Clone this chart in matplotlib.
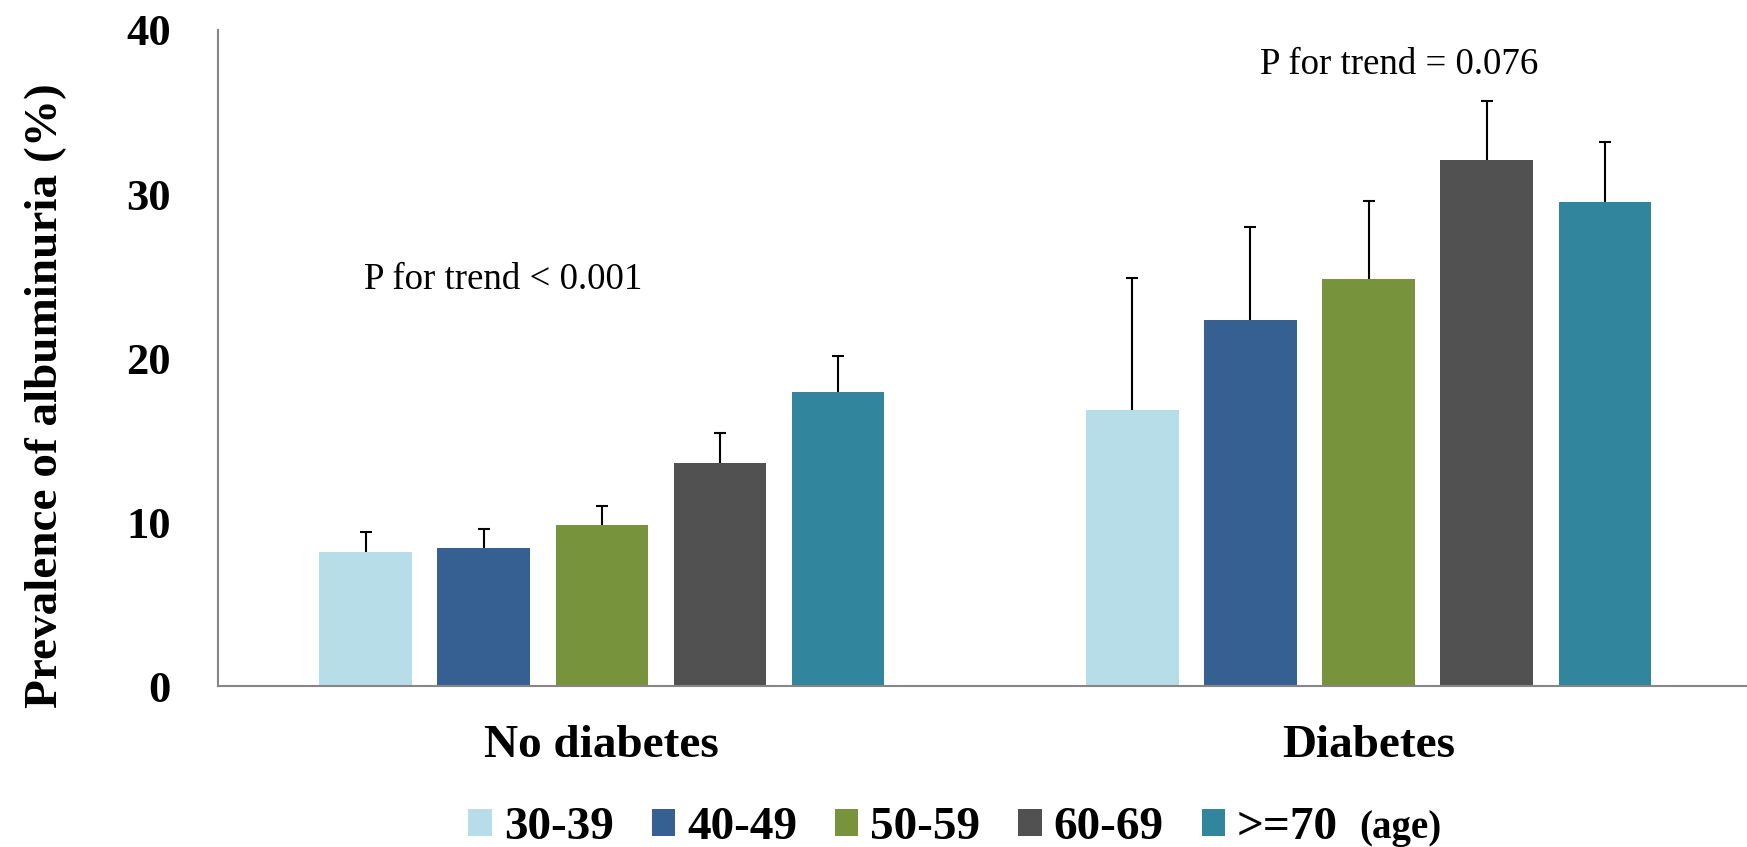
import numpy as np
import matplotlib
matplotlib.use("Agg")
from matplotlib import pyplot as plt

# prevalence of albuminuria by age band, with upper error bars
groups = ["No diabetes", "Diabetes"]
ages = ["30-39", "40-49", "50-59", "60-69", ">=70"]
colors = ["#B7DDE8", "#376092", "#77933C", "#515151", "#31859C"]

no_diab = [8.2, 8.4, 9.8, 13.6, 17.9]
no_diab_upper = [9.4, 9.6, 11.0, 15.4, 20.1]
diab = [16.8, 22.3, 24.8, 32.1, 29.5]
diab_upper = [24.9, 28.0, 29.6, 35.7, 33.2]

plt.rcParams['font.family'] = ['Liberation Serif', 'DejaVu Serif']

W, H = 1747, 847
fig = plt.figure(figsize=(W / 100, H / 100), dpi=100)
ax = fig.add_axes([218 / W, 1 - 686 / H, 1 - 218 / W, (686 - 30) / H])

step = 0.1545
width = 0.121
centers = np.array([0.502, 1.505])
for i, age in enumerate(ages):
    vals = np.array([no_diab[i], diab[i]])
    upper = np.array([no_diab_upper[i], diab_upper[i]])
    xpos = centers + (i - 2) * step
    ax.bar(xpos, vals, width=width, color=colors[i], label=age, zorder=2)
    # upper whisker only, capped at the top
    ax.vlines(xpos, vals, upper, colors='black', linewidth=1.5, zorder=3)
    ax.plot(xpos, upper, linestyle='none', marker='_', markersize=8,
            markeredgewidth=1.5, color='black', zorder=3)

ax.set_xlim(0, 2)
ax.set_ylim(0, 40)
ax.set_yticks([0, 10, 20, 30, 40])
ax.set_yticklabels(["0", "10", "20", "30", "40"], fontsize=32, fontweight='bold')
ax.set_xticks(centers)
ax.set_xticklabels(groups, fontsize=34, fontweight='bold')
ax.tick_params(axis='y', length=0, pad=34)
ax.tick_params(axis='x', length=0, pad=28)
for side in ['top', 'right']:
    ax.spines[side].set_visible(False)
for side in ['left', 'bottom']:
    ax.spines[side].set_color('#868686')
    ax.spines[side].set_linewidth(1.5)

ax.set_ylabel("Prevalence of albuminuria (%)", fontsize=34, fontweight='bold')
ax.yaxis.set_label_coords(-0.099, 0.443)

ax.text(0.191, 24.8, "P for trend < 0.001", fontsize=26.6, va='center', ha='left')
ax.text(1.363, 37.9, "P for trend = 0.076", fontsize=26.6, va='center', ha='left')

leg = fig.legend(loc='center', bbox_to_anchor=(0.517, 1 - 828 / H), ncol=5,
                 frameon=False, prop={'size': 34, 'weight': 'bold'},
                 handlelength=0.5, handleheight=0.5, handletextpad=0.25,
                 columnspacing=0.8, borderaxespad=0)

fig.canvas.draw()
bb = leg.get_window_extent()
fig.text((bb.x1 + 2) / W, (bb.y0 + bb.y1) / 2 / H, "(age)",
         fontsize=28, fontweight='bold', va='center', ha='left')

fig.savefig("out.png", dpi=100)
